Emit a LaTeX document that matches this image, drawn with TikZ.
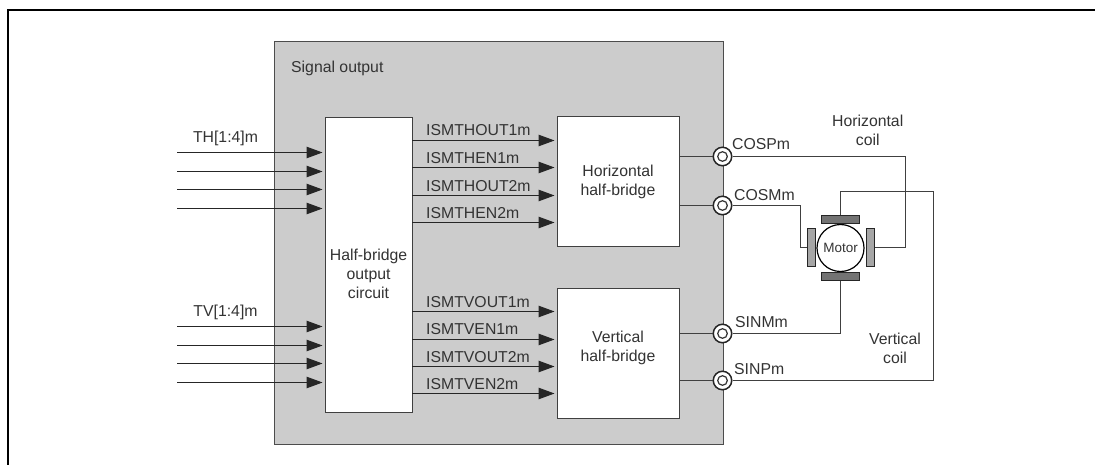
\documentclass[tikz,border=0pt]{standalone}
\usepackage{fontspec}
\setmainfont{Liberation Sans}
\usetikzlibrary{arrows.meta}
\tikzset{
  lbl/.style={font=\fontsize{15.8}{19}\selectfont, text=black!80, align=center, inner sep=0pt},
  blockbox/.style={draw=black!75, fill=white, line width=1pt, inner sep=0pt},
  sig/.style={draw=black!85, line width=1pt, -{Triangle[length=16pt,width=11.5pt]}, shorten >=2pt},
  wire/.style={draw=black!75, line width=1pt},
  port/.style={circle, draw=black!85, fill=white, line width=1.5pt, minimum size=18.5pt, inner sep=0pt,
    path picture={\draw[black!80, line width=1.2pt] (path picture bounding box.center) circle (4.8pt);}},
  pole/.style={draw=black!85, line width=1pt, inner sep=0pt}
}
\begin{document}
\begin{tikzpicture}[x=1pt,y=-1pt]
\useasboundingbox (0,0) rectangle (1095,465);
\draw[line width=2pt] (8,465) -- (8,10) -- (1095,10);
\node[draw=black!70, fill=black!20, line width=1pt, minimum width=449pt, minimum height=402pt, inner sep=0pt] (output) at (498.5,243) {};
\node[lbl, anchor=west] (outputlbl) at (291,68) {Signal output};
% blocks
\node[blockbox, minimum width=87pt, minimum height=294pt] (circuit) at (368.5,265) {};
\node[lbl] (circuitlbl) at (368.5,274) {Half-bridge\\output\\circuit};
\node[blockbox, minimum width=122pt, minimum height=130pt] (hbridge) at (618,182) {};
\node[lbl] (hbridgelbl) at (618,182) {Horizontal\\half-bridge};
\node[blockbox, minimum width=122pt, minimum height=130pt] (vbridge) at (618,353.7) {};
\node[lbl] (vbridgelbl) at (618,347.5) {Vertical\\half-bridge};
% inputs
\coordinate (th1) at (177,152.5);
\coordinate (th2) at (177,171.5);
\coordinate (th3) at (177,189.5);
\coordinate (th4) at (177,208.5);
\coordinate (tv1) at (177,326.5);
\coordinate (tv2) at (177,345.5);
\coordinate (tv3) at (177,363.5);
\coordinate (tv4) at (177,382.5);
\node[lbl] (thlbl) at (225.5,138) {TH[1:4]m};
\node[lbl] (tvlbl) at (225.5,312) {TV[1:4]m};
\draw[sig] (th1) -- (th1 -| circuit.west);
\draw[sig] (th2) -- (th2 -| circuit.west);
\draw[sig] (th3) -- (th3 -| circuit.west);
\draw[sig] (th4) -- (th4 -| circuit.west);
\draw[sig] (tv1) -- (tv1 -| circuit.west);
\draw[sig] (tv2) -- (tv2 -| circuit.west);
\draw[sig] (tv3) -- (tv3 -| circuit.west);
\draw[sig] (tv4) -- (tv4 -| circuit.west);
% half-bridge drive signals
\coordinate (thout1) at (412,140.5);
\coordinate (then1) at (412,167.5);
\coordinate (thout2) at (412,195.5);
\coordinate (then2) at (412,222.5);
\coordinate (tvout1) at (412,311.5);
\coordinate (tven1) at (412,339.5);
\coordinate (tvout2) at (412,366.5);
\coordinate (tven2) at (412,393.5);
\node[lbl, anchor=west] (thout1lbl) at (426,130) {ISMTHOUT1m};
\node[lbl, anchor=west] (then1lbl) at (426,158) {ISMTHEN1m};
\node[lbl, anchor=west] (thout2lbl) at (426,186) {ISMTHOUT2m};
\node[lbl, anchor=west] (then2lbl) at (426,213) {ISMTHEN2m};
\node[lbl, anchor=west] (tvout1lbl) at (426,302) {ISMTVOUT1m};
\node[lbl, anchor=west] (tven1lbl) at (426,329) {ISMTVEN1m};
\node[lbl, anchor=west] (tvout2lbl) at (426,357) {ISMTVOUT2m};
\node[lbl, anchor=west] (tven2lbl) at (426,384) {ISMTVEN2m};
\draw[sig] (thout1) -- (thout1 -| hbridge.west);
\draw[sig] (then1) -- (then1 -| hbridge.west);
\draw[sig] (thout2) -- (thout2 -| hbridge.west);
\draw[sig] (then2) -- (then2 -| hbridge.west);
\draw[sig] (tvout1) -- (tvout1 -| vbridge.west);
\draw[sig] (tven1) -- (tven1 -| vbridge.west);
\draw[sig] (tvout2) -- (tvout2 -| vbridge.west);
\draw[sig] (tven2) -- (tven2 -| vbridge.west);
% ports
\node[port] (cosp) at (722.5,156.5) {};
\node[port] (cosm) at (722.5,205.5) {};
\node[port] (sinm) at (722.5,333.5) {};
\node[port] (sinp) at (722.5,380.5) {};
\node[lbl, anchor=west] (cosplbl) at (732,144) {COSPm};
\node[lbl, anchor=west] (cosmlbl) at (734,195) {COSMm};
\node[lbl, anchor=west] (sinmlbl) at (735,322) {SINMm};
\node[lbl, anchor=west] (sinplbl) at (734,369) {SINPm};
% motor
\node[circle, draw=black, fill=white, line width=1.2pt, minimum size=47pt, inner sep=0pt, font=\fontsize{13.5}{16}\selectfont, text=black!80] (motor) at (840.5,248) {Motor};
\node[pole, fill=black!55, minimum width=37.5pt, minimum height=8pt] (poletop) at (840.5,219.5) {};
\node[pole, fill=black!55, minimum width=37.5pt, minimum height=8pt] (polebot) at (840.5,276.5) {};
\node[pole, fill=black!35, minimum width=8pt, minimum height=37.5pt] (poleleft) at (811.7,247.5) {};
\node[pole, fill=black!35, minimum width=8pt, minimum height=37.5pt] (poleright) at (870.3,247.5) {};
\coordinate (cospbend) at (905.5,156.5);
\coordinate (cosmbend) at (800.5,205.5);
\coordinate (sinpbend) at (933.5,380.5);
\coordinate (toptop) at (840.5,191.5);
% wiring
\draw[wire] (hbridge.east |- cosp) -- (cosp);
\draw[wire] (hbridge.east |- cosm) -- (cosm);
\draw[wire] (vbridge.east |- sinm) -- (sinm);
\draw[wire] (vbridge.east |- sinp) -- (sinp);
\draw[wire] (cosp) -- (cospbend) |- (poleright.east);
\draw[wire] (cosm) -- (cosmbend) |- (poleleft.west);
\draw[wire] (sinm) -| (polebot.south);
\draw[wire] (sinp) -- (sinpbend) |- (toptop) -- (poletop.north);
\node[lbl] (hcoillbl) at (867.7,130.5) {Horizontal\\coil};
\node[lbl] (vcoillbl) at (895,348.5) {Vertical\\coil};
\end{tikzpicture}
\end{document}
